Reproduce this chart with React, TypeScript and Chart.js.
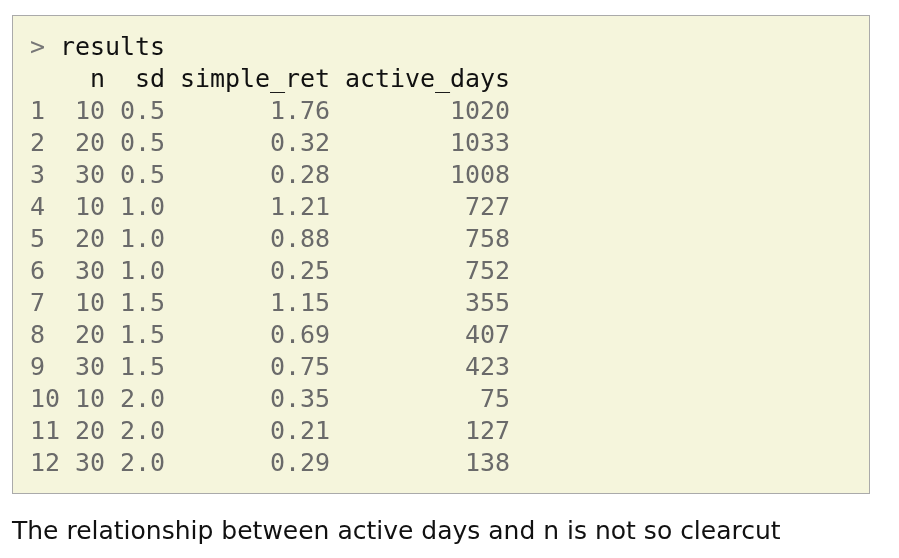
import React, { useEffect, useRef } from "react";
import { Chart, registerables } from "chart.js";
Chart.register(...registerables);

const rowNames = ["1","2","3","4","5","6","7","8","9","10","11","12"];
const nVals = [10,20,30,10,20,30,10,20,30,10,20,30];
const sdVals = [0.5,0.5,0.5,1.0,1.0,1.0,1.5,1.5,1.5,2.0,2.0,2.0];
const simpleRet = [1.76,0.32,0.28,1.21,0.88,0.25,1.15,0.69,0.75,0.35,0.21,0.29];
const activeDays = [1020,1033,1008,727,758,752,355,407,423,75,127,138];
const command = "results";
const header = "    n  sd simple_ret active_days";
const caption = "The relationship between active days and n is not so clearcut";

const CW = 15.0;
const LH = 32;

function rowLine(i: number) {
  return rowNames[i].padEnd(2) + " " + String(nVals[i]).padStart(2) + " " +
    sdVals[i].toFixed(1).padStart(3) + " " + simpleRet[i].toFixed(2).padStart(10) + " " +
    String(activeDays[i]).padStart(11);
}

export default function App() {
  const ref = useRef<HTMLCanvasElement>(null);
  useEffect(() => {
    const lines = rowNames.map((_, i) => rowLine(i));
    const drawMono = (ctx: any, xs: any, ys: any, s: string, c0: number, row: number) => {
      for (let c = 0; c < s.length; c++) {
        if (s[c] !== " ") ctx.fillText(s[c], xs.getPixelForValue(c0 + c), ys.getPixelForValue(row));
      }
    };
    const textPlugin = {
      id: "consoleText",
      beforeDraw(chart: any) {
        const ctx = chart.ctx;
        ctx.save();
        ctx.fillStyle = "#ffffff";
        ctx.fillRect(0, 0, chart.width, chart.height);
        ctx.fillStyle = "#f5f5dc";
        ctx.fillRect(12.5, 15.5, 857, 478);
        ctx.strokeStyle = "#aaaaaa";
        ctx.lineWidth = 1;
        ctx.strokeRect(12.5, 15.5, 857, 478);
        ctx.restore();
      },
      afterDraw(chart: any) {
        const ctx = chart.ctx;
        const xs = chart.scales.x, ys = chart.scales.y;
        ctx.save();
        ctx.font = "25px 'DejaVu Sans Mono'";
        ctx.textBaseline = "middle";
        ctx.textAlign = "left";
        ctx.fillStyle = "#777777";
        drawMono(ctx, xs, ys, ">", 0, 0);
        ctx.fillStyle = "#111111";
        drawMono(ctx, xs, ys, command, 2, 0);
        drawMono(ctx, xs, ys, header, 0, 1);
        ctx.fillStyle = "#6a6a6a";
        lines.forEach((l, i) => drawMono(ctx, xs, ys, l, 0, i + 2));
        ctx.fillStyle = "#111111";
        ctx.font = "25px 'DejaVu Sans'";
        ctx.fillText(caption, 12, 532);
        ctx.restore();
      },
    };
    const points = rowNames.map((_, i) => ({ x: 0, y: i + 2 }));
    const chart = new Chart(ref.current!, {
      type: "scatter",
      data: { datasets: [{ data: points, pointRadius: 0 }] },
      options: {
        animation: false,
        responsive: false,
        layout: { padding: 0 },
        plugins: { legend: { display: false }, tooltip: { enabled: false } },
        scales: {
          x: { type: "linear", display: false, min: -30 / CW, max: (899 - 30) / CW },
          y: { type: "linear", display: false, reverse: true, min: -48 / LH, max: (558 - 48) / LH },
        },
      },
      plugins: [textPlugin],
    });
    return () => chart.destroy();
  }, []);
  return (
    <div style={{ position: "fixed", left: 0, top: 0 }}>
      <canvas ref={ref} width={899} height={558} style={{ width: 899, height: 558 }} />
    </div>
  );
}
